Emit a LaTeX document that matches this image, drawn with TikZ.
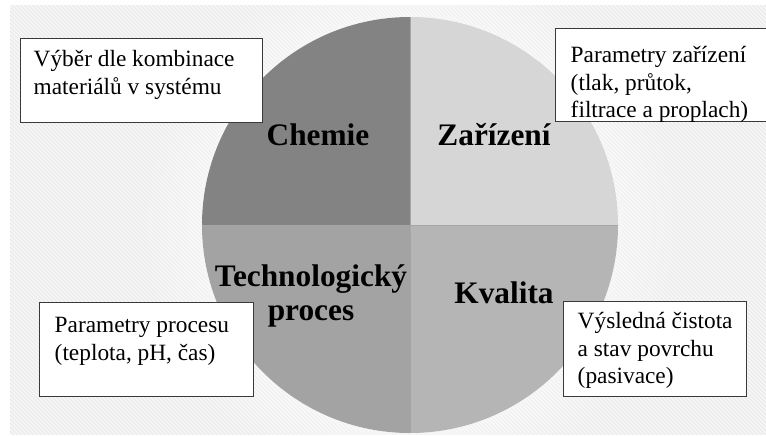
\documentclass[tikz,border=0pt]{standalone}
\usepackage{fontspec}
\setmainfont{Liberation Serif}
\usetikzlibrary{patterns}
\definecolor{qChem}{HTML}{838383}
\definecolor{qZar}{HTML}{D6D6D6}
\definecolor{qTech}{HTML}{A3A3A3}
\definecolor{qKval}{HTML}{B5B5B5}
\definecolor{bgcol}{HTML}{EDEDED}
\definecolor{boxline}{HTML}{3A3A3A}
\newcommand\infotext[5]{\parbox[c][#2][t]{#1}{\raggedright\setlength{\leftskip}{#3}\fontsize{17.5pt}{20.6pt}\selectfont\rule{0pt}{#4}#5}}
\tikzset{
  biglabel/.style={font=\fontsize{23.5pt}{25.5pt}\selectfont\bfseries, anchor=base, inner sep=0pt},
  infobox/.style={draw=boxline, line width=1.1pt, fill=white, inner sep=0pt, anchor=north west},
  sepline/.style={draw=black!35, line width=0.5pt}
}
\begin{document}
\begin{tikzpicture}[x=0.75pt,y=-0.75pt]
\useasboundingbox (0,0) rectangle (766,435);
\fill[white] (0,0) rectangle (766,435);
\fill[bgcol] (10,5) rectangle (766,435);
\fill[pattern=north west lines, pattern color=white] (10,5) rectangle (766,435);
\begin{scope}
\clip (10,5) rectangle (766,435);
\foreach \r in {212,222,...,262} \fill[white, opacity=0.1] (410,225) circle (\r);
\end{scope}
\begin{scope}
\clip (410,225) circle (208);
\fill[qChem] (200,15) rectangle (410,225);
\fill[qZar] (410,15) rectangle (620,225);
\fill[qTech] (200,225) rectangle (410,435);
\fill[qKval] (410,225) rectangle (620,435);
\draw[sepline] (410,15) -- (410,435);
\draw[sepline] (200,225) -- (620,225);
\end{scope}
\node[biglabel] (chem) at (318,145) {Chemie};
\node[biglabel] (zar) at (494,145) {Zařízení};
\node[biglabel, align=center] (tech) at (311,320) {Technologický\\proces};
\node[biglabel] (kval) at (504,303) {Kvalita};
\node[infobox] (b1) at (20,38) {\infotext{181.5pt}{63pt}{9.75pt}{21pt}{Výběr dle kombinace\\materiálů v systému}};
\node[infobox] (b2) at (555,28) {\infotext{158.25pt}{69.75pt}{11.25pt}{25.5pt}{Parametry zařízení\\(tlak, průtok,\\filtrace a proplach)}};
\node[infobox] (b3) at (39,302) {\infotext{160.5pt}{70.5pt}{11.25pt}{22.5pt}{Parametry procesu\\(teplota, pH, čas)}};
\node[infobox] (b4) at (563,301) {\infotext{137.25pt}{71.25pt}{10.5pt}{20.25pt}{Výsledná čistota\\a stav povrchu\\(pasivace)}};
\end{tikzpicture}
\end{document}
